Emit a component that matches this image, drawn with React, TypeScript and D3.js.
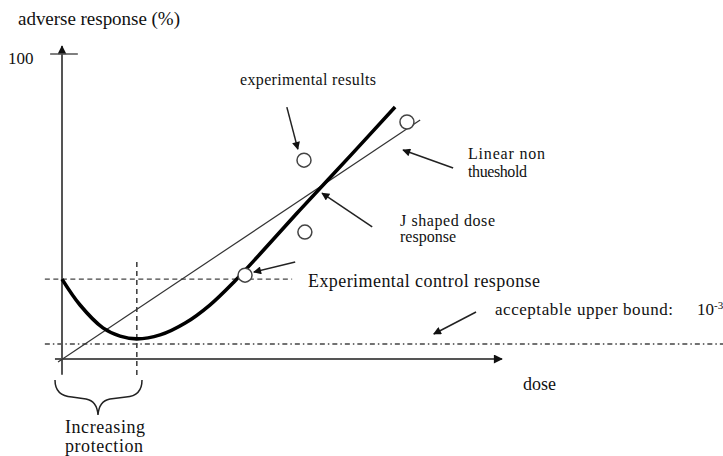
import React from "react";
import * as d3 from "d3";

// J-shaped (hormetic) dose response
const jDose = [0, 4.1, 9.3, 13.2, 17, 22.3, 28, 33.6, 39.3, 45, 54.1, 65.5, 75.7];
const jResponse = [26.2, 17.7, 10.2, 7.5, 6.6, 7.9, 11.8, 17.7, 25.6, 34.4, 48.9, 66.6, 82.6];

// linear non threshold line
const lntDose = [-0.9, 81.4];
const lntResponse = [-1, 78.4];

// experimental points
const expDose = [55, 55.2, 78.4, 41.6];
const expResponse = [65.2, 41.6, 77.7, 27.5];

// reference levels
const controlLevel = 26.2;
const acceptableLevel = 4.9;
const minDose = 17;
const yTickValues = [100];

const FONT = "Liberation Serif, Times New Roman, serif";

const W = 723;
const H = 456;

const App = () => {
  // scales
  const x = d3.scaleLinear().domain([0, 100]).range([62, 502]);
  const y = d3.scaleLinear().domain([0, 100]).range([359, 54]);

  const jData = jDose.map((d, i) => [d, jResponse[i]] as [number, number]);
  const jLine = d3
    .line<[number, number]>()
    .x((d) => x(d[0]))
    .y((d) => y(d[1]))
    .curve(d3.curveCatmullRom.alpha(0.5));

  // annotation arrows: [tailDose, tailResp, headDose, headResp]
  const arrows = [
    [51.1, 82.6, 53.6, 68.8],
    [88.9, 62.6, 77.5, 68.5],
    [70.5, 43.3, 59.1, 54.4],
    [53, 31.8, 43.6, 28.5],
    [94.1, 15.4, 84.5, 8.2],
  ];

  const textStyle = { fill: "#111" };

  return (
    <svg
      width={W}
      height={H}
      fontFamily={FONT}
      style={{ position: "absolute", left: 0, top: 0, background: "#fff" }}
    >
      <defs>
        <marker
          id="head"
          viewBox="0 0 10 10"
          refX="9"
          refY="5"
          markerWidth="11"
          markerHeight="8"
          markerUnits="userSpaceOnUse"
          orient="auto"
        >
          <path d="M0,0 L10,5 L0,10 z" fill="#111" />
        </marker>
        <marker
          id="axisHead"
          viewBox="0 0 10 10"
          refX="9"
          refY="5"
          markerWidth="11"
          markerHeight="9"
          markerUnits="userSpaceOnUse"
          orient="auto"
        >
          <path d="M0,0 L10,5 L0,10 z" fill="#111" />
        </marker>
      </defs>

      {/* reference lines */}
      <line
        x1={x(-3.9)}
        x2={x(52.3)}
        y1={y(controlLevel)}
        y2={y(controlLevel)}
        stroke="#444"
        strokeWidth={1.4}
        strokeDasharray="5,3.5"
      />
      <line
        x1={x(-3.9)}
        x2={W}
        y1={y(acceptableLevel)}
        y2={y(acceptableLevel)}
        stroke="#444"
        strokeWidth={1.4}
        strokeDasharray="5,3,1.5,3"
      />
      <line
        x1={x(minDose)}
        x2={x(minDose)}
        y1={y(31.8)}
        y2={y(-6.2)}
        stroke="#444"
        strokeWidth={1.6}
        strokeDasharray="5,4"
      />

      {/* axes */}
      <line
        x1={x(0)}
        x2={x(0)}
        y1={y(-5.2)}
        y2={y(102.6)}
        stroke="#555"
        strokeWidth={2}
        markerEnd="url(#axisHead)"
      />
      <line
        x1={x(-1.6)}
        x2={x(100)}
        y1={y(0)}
        y2={y(0)}
        stroke="#555"
        strokeWidth={2}
        markerEnd="url(#axisHead)"
      />
      {yTickValues.map((t) => (
        <g key={t}>
          <line
            x1={x(-2.7)}
            x2={x(3.6)}
            y1={y(t)}
            y2={y(t)}
            stroke="#555"
            strokeWidth={1.5}
          />
          <text x={8} y={y(t) + 10} fontSize={17} style={textStyle}>
            {t}
          </text>
        </g>
      ))}

      {/* linear non threshold */}
      <line
        x1={x(lntDose[0])}
        y1={y(lntResponse[0])}
        x2={x(lntDose[1])}
        y2={y(lntResponse[1])}
        stroke="#333"
        strokeWidth={1.2}
      />

      {/* J shaped curve */}
      <path d={jLine(jData) || ""} fill="none" stroke="#000" strokeWidth={3.6} />

      {/* experimental results */}
      {expDose.map((d, i) => (
        <circle
          key={i}
          cx={x(d)}
          cy={y(expResponse[i])}
          r={7}
          fill="#fff"
          stroke="#444"
          strokeWidth={1.5}
        />
      ))}

      {/* annotation arrows */}
      {arrows.map((a, i) => (
        <line
          key={i}
          x1={x(a[0])}
          y1={y(a[1])}
          x2={x(a[2])}
          y2={y(a[3])}
          stroke="#222"
          strokeWidth={1.5}
          markerEnd="url(#head)"
        />
      ))}

      {/* brace */}
      <path
        d="M55,380 Q55,396 72,397 L86,399 Q97,401 98,415 Q99,401 110,399 L126,397 Q142,396 142,380"
        fill="none"
        stroke="#222"
        strokeWidth={1.5}
      />

      {/* labels */}
      <text x={18} y={25} fontSize={19} textLength={162} style={textStyle}>
        adverse response (%)
      </text>
      <text x={240} y={85} fontSize={16} textLength={136} style={textStyle}>
        experimental results
      </text>
      <text x={468} y={159} fontSize={16} textLength={77} style={textStyle}>
        Linear  non
      </text>
      <text x={468} y={177} fontSize={16} textLength={59} style={textStyle}>
        thueshold
      </text>
      <text x={400} y={226} fontSize={16} textLength={95} style={textStyle}>
        J  shaped  dose
      </text>
      <text x={400} y={242} fontSize={16} textLength={56} style={textStyle}>
        response
      </text>
      <text x={308} y={287} fontSize={18} textLength={232} style={textStyle}>
        Experimental control response
      </text>
      <text x={495} y={315} fontSize={17} textLength={178} style={textStyle}>
        acceptable upper bound:
      </text>
      <text x={697} y={315} fontSize={17} style={textStyle}>
        10
        <tspan dy={-6} fontSize={11}>
          -3
        </tspan>
      </text>
      <text x={523} y={390} fontSize={18} style={textStyle}>
        dose
      </text>
      <text x={65} y={433} fontSize={18} textLength={80} style={textStyle}>
        Increasing
      </text>
      <text x={65} y={452} fontSize={18} textLength={78} style={textStyle}>
        protection
      </text>
    </svg>
  );
};

export default App;
